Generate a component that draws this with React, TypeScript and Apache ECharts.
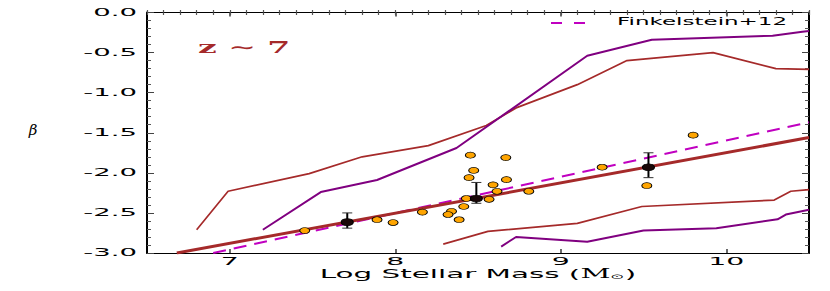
import React, { useEffect, useRef } from "react";
import * as echarts from "echarts";

// ---- data ----
const xTicks = [7, 8, 9, 10];
const xTickLabels = ["7", "8", "9", "10"];
const yTicks = [0, -0.5, -1, -1.5, -2, -2.5, -3];
const yTickLabels = ["0.0", "-0.5", "-1.0", "-1.5", "-2.0", "-2.5", "-3.0"];

const fitLine = [[6.68, -3.0], [10.5, -1.56]];
const finkelstein = [[6.9, -3.0], [10.5, -1.37]];
const upperBrown = [
  [6.8, -2.71], [6.99, -2.23], [7.48, -2.01], [7.8, -1.8], [8.2, -1.66], [8.55, -1.41],
  [8.73, -1.19], [9.1, -0.9], [9.4, -0.6], [9.92, -0.5], [10.3, -0.7], [10.5, -0.71],
];
const upperPurple = [
  [7.2, -2.71], [7.55, -2.24], [7.89, -2.09], [8.37, -1.69], [9.16, -0.54], [9.55, -0.34],
  [10.28, -0.29], [10.46, -0.24], [10.5, -0.23],
];
const lowerBrown = [
  [8.29, -2.89], [8.56, -2.73], [9.1, -2.63], [9.49, -2.42], [10.29, -2.34], [10.39, -2.23], [10.5, -2.21],
];
const lowerPurple = [
  [8.64, -2.92], [8.73, -2.8], [9.16, -2.86], [9.5, -2.72], [9.94, -2.69], [10.31, -2.58], [10.36, -2.52], [10.5, -2.46],
];
const galaxyMass = [
  8.454, 8.668, 8.474, 8.446, 8.672, 8.591, 8.615, 8.807, 8.43, 8.567, 8.414, 8.34, 8.319, 8.386,
  8.164, 7.453, 7.89, 7.987, 9.8, 9.25, 9.52,
];
const galaxyBeta = [
  -1.78, -1.81, -1.97, -2.06, -2.085, -2.15, -2.23, -2.23, -2.32, -2.33, -2.42, -2.48, -2.52, -2.585,
  -2.49, -2.72, -2.585, -2.62, -1.53, -1.93, -2.16,
];
const binMass = [7.71, 8.49, 9.53];
const binBeta = [-2.615, -2.32, -1.93];
const binHigh = [-2.5, -2.12, -1.75];
const binLow = [-2.69, -2.38, -2.06];

const X_MIN = 6.5;
const X_MAX = 10.5;
const Y_MIN = -3;
const Y_MAX = 0;

const BROWN = "#a52a2a";
const PURPLE = "#800080";
const MAGENTA = "#c000c0";
const FONT = '"DejaVu Sans"';

export default function App() {
  const ref = useRef<HTMLDivElement>(null);
  useEffect(() => {
    if (!ref.current) return;
    const chart = echarts.init(ref.current, undefined, { renderer: "svg" });
    const grid = { left: 147, right: 21, top: 12.5, bottom: 38, containLabel: false };
    const majorX = (pos: string) => ({
      gridIndex: 0,
      type: "value",
      position: pos,
      min: X_MIN,
      max: X_MAX,
      axisLine: { show: true, onZero: false, lineStyle: { color: "#000", width: 1.2 } },
      axisTick: { show: true, inside: true, length: 4, customValues: xTicks, lineStyle: { color: "#444", width: 1.6 } },
      axisLabel: { show: false },
      splitLine: { show: false },
    });
    const minorX = (pos: string) => ({
      gridIndex: 1,
      type: "value",
      position: pos,
      min: X_MIN,
      max: X_MAX,
      interval: 0.1,
      axisLine: { show: false },
      axisTick: { show: true, inside: true, length: 2.5, lineStyle: { color: "#555", width: 1.2 } },
      axisLabel: { show: false },
      splitLine: { show: false },
    });
    const majorY = (pos: string) => ({
      gridIndex: 0,
      type: "value",
      position: pos,
      min: Y_MIN,
      max: Y_MAX,
      interval: 0.5,
      axisLine: { show: true, onZero: false, lineStyle: { color: "#000", width: 2 } },
      axisTick: { show: true, inside: true, length: 7, lineStyle: { color: "#444", width: 1 } },
      minorTick: { show: true, splitNumber: 5, length: 4, lineStyle: { color: "#555", width: 1 } },
      axisLabel: { show: false },
      splitLine: { show: false },
    });
    const lineSeries = (data: number[][], color: string, width: number, z: number, dash?: number[]) => ({
      type: "line",
      xAxisIndex: 0,
      yAxisIndex: 0,
      data,
      showSymbol: false,
      symbol: "none",
      clip: true,
      z,
      lineStyle: { color, width, type: dash ? dash : "solid" },
      silent: true,
    });
    const option: any = {
      animation: false,
      backgroundColor: "#fff",
      grid: [grid, { ...grid }],
      xAxis: [majorX("bottom"), majorX("top"), minorX("bottom"), minorX("top")],
      yAxis: [
        majorY("left"),
        majorY("right"),
        { gridIndex: 1, type: "value", min: Y_MIN, max: Y_MAX, show: false },
      ],
      series: [
        lineSeries(upperBrown, BROWN, 1.7, 2),
        lineSeries(lowerBrown, BROWN, 1.7, 2),
        lineSeries(upperPurple, PURPLE, 2, 2),
        lineSeries(lowerPurple, PURPLE, 2, 2),
        lineSeries(finkelstein, MAGENTA, 2, 3, [13, 8]),
        lineSeries(fitLine, BROWN, 3, 3),
        {
          type: "scatter",
          xAxisIndex: 0,
          yAxisIndex: 0,
          data: galaxyMass.map((m, i) => [m, galaxyBeta[i]]),
          symbol: "circle",
          symbolSize: [10, 6],
          itemStyle: { color: "#FFA500", borderColor: "#000", borderWidth: 0.8, opacity: 1 },
          z: 4,
        },
        {
          type: "custom",
          xAxisIndex: 0,
          yAxisIndex: 0,
          data: binMass.map((m, i) => [m, binBeta[i], binHigh[i], binLow[i]]),
          z: 5,
          renderItem: (params: any, api: any) => {
            const x = api.value(0);
            const hi = api.coord([x, api.value(2)]);
            const lo = api.coord([x, api.value(3)]);
            const cap = 5;
            return {
              type: "group",
              children: [
                { type: "line", shape: { x1: hi[0], y1: hi[1], x2: lo[0], y2: lo[1] }, style: { stroke: "#000", lineWidth: 2 } },
                { type: "line", shape: { x1: hi[0] - cap, y1: hi[1], x2: hi[0] + cap, y2: hi[1] }, style: { stroke: "#333", lineWidth: 1 } },
                { type: "line", shape: { x1: lo[0] - cap, y1: lo[1], x2: lo[0] + cap, y2: lo[1] }, style: { stroke: "#333", lineWidth: 1 } },
              ],
            };
          },
        },
        {
          type: "scatter",
          xAxisIndex: 0,
          yAxisIndex: 0,
          data: binMass.map((m, i) => [m, binBeta[i]]),
          symbol: "circle",
          symbolSize: [12, 7],
          itemStyle: { color: "#1a0808", borderColor: "#000", borderWidth: 0.8, opacity: 1 },
          z: 6,
        },
      ],
    };
    chart.setOption(option);

    const gx = (v: number) => chart.convertToPixel({ xAxisIndex: 0 }, v) as number;
    const gy = (v: number) => chart.convertToPixel({ yAxisIndex: 0 }, v) as number;
    const left = gx(X_MIN);
    const right = gx(X_MAX);
    const top = gy(Y_MAX);
    const bottom = gy(Y_MIN);
    const elements: any[] = [];
    yTicks.forEach((v, i) => {
      elements.push({
        type: "text",
        x: left - 10,
        y: gy(v),
        scaleX: 2.75,
        style: { text: yTickLabels[i], fontSize: 10, fontFamily: FONT, fill: "#000", align: "right", verticalAlign: "middle" },
      });
    });
    xTicks.forEach((v, i) => {
      elements.push({
        type: "text",
        x: gx(v),
        y: bottom + 8,
        scaleX: 2.7,
        style: { text: xTickLabels[i], fontSize: 10.5, fontFamily: FONT, fill: "#000", align: "center", verticalAlign: "middle" },
      });
    });
    elements.push({
      type: "text",
      x: (left + right) / 2,
      y: bottom + 21,
      scaleX: 2.45,
      style: {
        text: "{a|Log Stellar Mass (}{m|M}{s|⊙}{a|)}",
        fontSize: 12,
        fontFamily: FONT,
        fill: "#000",
        align: "center",
        verticalAlign: "middle",
        rich: {
          a: { fontSize: 12, fontFamily: FONT, fill: "#000" },
          m: { fontSize: 12, fontFamily: '"DejaVu Serif"', fill: "#000" },
          s: { fontSize: 7, fontFamily: FONT, fill: "#000", verticalAlign: "bottom" },
        },
      },
    });
    elements.push({
      type: "text",
      x: 33,
      y: (top + bottom) / 2 - 3,
      style: { text: "β", fontSize: 15, fontFamily: '"DejaVu Serif"', fontStyle: "italic", fill: "#000", align: "center", verticalAlign: "middle" },
    });
    elements.push({
      type: "text",
      x: left + 51,
      y: top + 34.5,
      scaleX: 2.0,
      style: { text: "z ∼ 7", fontSize: 16.5, fontFamily: '"DejaVu Serif"', fontWeight: "bold", fill: BROWN, align: "left", verticalAlign: "middle" },
    });
    elements.push({
      type: "line",
      shape: { x1: right - 258, y1: top + 10.5, x2: right - 224, y2: top + 10.5 },
      style: { stroke: MAGENTA, lineWidth: 2, lineDash: [11, 12] },
    });
    elements.push({
      type: "text",
      x: right - 192,
      y: top + 9.5,
      scaleX: 2.3,
      style: { text: "Finkelstein+12", fontSize: 10, fontFamily: FONT, fill: "#000", align: "left", verticalAlign: "middle" },
    });
    chart.setOption({ graphic: { elements } });

    return () => chart.dispose();
  }, []);
  return <div ref={ref} style={{ position: "fixed", left: 0, top: 0, width: 830, height: 291 }} />;
}
